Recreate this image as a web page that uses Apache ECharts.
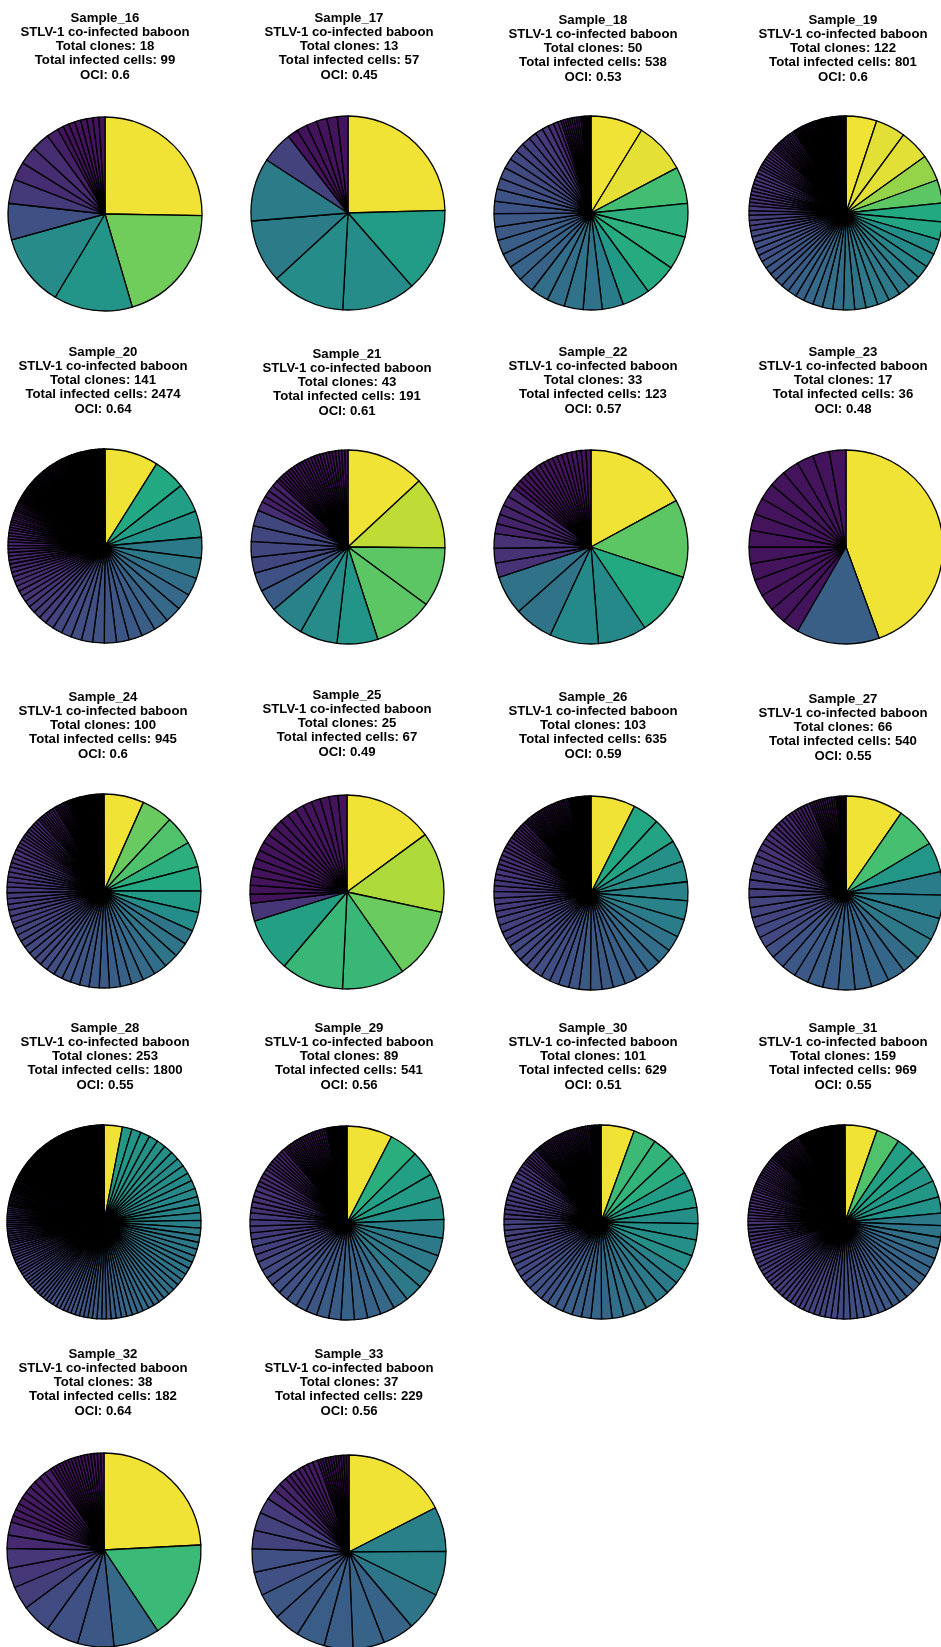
<!DOCTYPE html>
<html>
<head>
<meta charset="utf-8">
<script src="https://cdn.jsdelivr.net/npm/echarts@6/dist/echarts.min.js"></script>
<style>
html,body{margin:0;padding:0;background:#fff;}
#chart{width:941px;height:1647px;}
</style>
</head>
<body>
<div id="chart"></div>
<script>
// ---- DATA ----
const sampleNames = ['Sample_16','Sample_17','Sample_18','Sample_19','Sample_20','Sample_21','Sample_22','Sample_23','Sample_24','Sample_25','Sample_26','Sample_27','Sample_28','Sample_29','Sample_30','Sample_31','Sample_32','Sample_33'];
const hostLabel = 'STLV-1 co-infected baboon';
const totalClones = [18,13,50,122,141,43,33,17,100,25,103,66,253,89,101,159,38,37];
const totalCells = [99,57,538,801,2474,191,123,36,945,67,635,540,1800,541,629,969,182,229];
const ociValues = ['0.6','0.45','0.53','0.6','0.64','0.61','0.57','0.48','0.6','0.49','0.59','0.55','0.55','0.56','0.51','0.55','0.64','0.56'];

// clone size frequency tables: [cells per clone, number of clones], largest first
const clones16 = [[25,1],[20,1],[13,1],[12,1],[6,1],[4,1],[3,3],[2,1],[1,8]];
const clones17 = [[14,1],[8,1],[7,2],[6,2],[3,1],[1,6]];
const clones18 = [[47,1],[46,1],[33,1],[30,2],[29,1],[25,1],[19,1],[17,2],[16,2],[14,2],[13,2],[12,2],[11,2],[10,2],[9,2],[8,2],[7,2],[6,1],[5,1],[4,1],[3,1],[2,9],[1,9]];
const clones19 = [[41,1],[40,2],[35,1],[31,1],[25,1],[24,1],[20,1],[19,1],[18,1],[17,1],[16,4],[15,2],[14,2],[13,2],[12,2],[11,2],[10,3],[9,3],[8,2],[7,3],[6,2],[5,10],[4,8],[3,12],[2,19],[1,35]];
const clones20 = [[221,1],[133,1],[120,1],[109,1],[86,1],[84,1],[74,1],[68,2],[62,1],[58,1],[55,1],[52,1],[50,1],[48,1],[46,1],[44,1],[42,1],[40,1],[36,1],[33,1],[31,1],[29,1],[27,1],[25,1],[24,1],[22,1],[21,1],[20,1],[19,1],[18,1],[17,1],[16,2],[15,2],[14,2],[13,2],[12,2],[11,2],[10,3],[9,3],[8,3],[7,3],[6,42],[5,20],[4,12],[3,6],[2,5]];
const clones21 = [[25,1],[23,1],[19,2],[13,1],[12,1],[11,1],[7,1],[6,1],[5,4],[3,1],[2,4],[1,25]];
const clones22 = [[21,1],[16,1],[13,1],[10,2],[8,2],[3,3],[2,5],[1,18]];
const clones23 = [[16,1],[5,1],[1,15]];
const clones24 = [[63,1],[49,1],[46,1],[40,1],[38,1],[34,1],[30,1],[23,3],[21,1],[20,1],[19,1],[18,1],[17,1],[16,2],[15,2],[14,2],[13,2],[12,3],[11,3],[10,3],[9,4],[8,4],[7,4],[6,3],[5,8],[4,8],[3,7],[2,29],[1,1]];
const clones25 = [[10,1],[9,1],[8,1],[7,2],[6,1],[2,1],[1,18]];
const clones26 = [[47,1],[28,1],[27,1],[23,1],[22,1],[20,2],[19,1],[17,1],[16,1],[15,1],[14,1],[13,2],[12,3],[11,2],[10,3],[9,4],[8,4],[7,4],[6,4],[5,4],[4,4],[3,7],[2,26],[1,24]];
const clones27 = [[52,1],[37,1],[27,1],[21,2],[20,2],[17,1],[16,2],[15,2],[14,2],[13,2],[12,1],[11,1],[10,2],[9,3],[8,3],[7,2],[6,2],[5,3],[4,5],[3,7],[2,12],[1,9]];
const clones28 = [[55,1],[29,1],[28,2],[27,3],[26,3],[25,3],[24,2],[23,2],[22,1],[21,3],[20,4],[19,4],[18,4],[17,3],[16,2],[15,1],[14,4],[13,5],[12,6],[11,6],[10,5],[9,5],[8,6],[7,8],[6,10],[5,10],[4,8],[3,50],[2,80],[1,11]];
const clones29 = [[41,1],[26,1],[23,1],[22,1],[20,1],[17,1],[16,4],[14,1],[13,1],[12,3],[11,2],[10,3],[9,2],[8,3],[7,3],[6,4],[5,5],[4,4],[3,8],[2,21],[1,19]];
const clones30 = [[35,1],[24,1],[23,1],[22,1],[19,2],[17,4],[15,1],[14,2],[13,2],[12,2],[11,2],[10,3],[9,2],[8,4],[7,4],[6,7],[5,10],[4,3],[3,6],[2,31],[1,12]];
const clones31 = [[52,1],[38,1],[29,2],[27,2],[26,1],[20,1],[19,1],[18,1],[17,1],[16,2],[15,2],[14,2],[13,2],[12,3],[11,3],[10,3],[9,4],[8,8],[7,9],[6,8],[5,10],[4,15],[3,18],[2,18],[1,41]];
const clones32 = [[44,1],[30,1],[14,1],[11,1],[10,1],[9,1],[7,1],[6,2],[4,2],[2,10],[1,17]];
const clones33 = [[40,1],[17,2],[15,1],[12,2],[11,2],[10,2],[9,2],[7,2],[6,1],[4,1],[3,2],[2,7],[1,12]];
const cloneTables = [clones16,clones17,clones18,clones19,clones20,clones21,clones22,clones23,clones24,clones25,clones26,clones27,clones28,clones29,clones30,clones31,clones32,clones33];

// ---- LAYOUT (pixels) ----
const pieCenters = [[105,214],[348,213],[591,213],[846,213],
                    [105,546],[348,547],[591,547],[846,547],
                    [104,891],[347,892],[591,893],[846,893],
                    [104,1222],[347,1223],[601,1222],[845,1222],
                    [104,1550],[349,1552]];
const titleCenters = [[105,18],[349,18],[593,20],[843,20],
                      [103,352],[347,354],[593,352],[843,352],
                      [103,697],[347,695],[593,697],[843,699],
                      [105,1028],[349,1028],[593,1028],[843,1028],
                      [103,1354],[349,1354]];
const pieRadius = 97;

const viridisStops = ['#440154','#482475','#414487','#355f8d','#2a788e','#21918c','#22a884','#44bf70','#7ad151','#bddf26','#fde725'];
function hex2rgb(h){return [parseInt(h.slice(1,3),16),parseInt(h.slice(3,5),16),parseInt(h.slice(5,7),16)];}
function viridis(t){
  t = Math.max(0, Math.min(1, t));
  const x = t * (viridisStops.length - 1);
  const i = Math.min(Math.floor(x), viridisStops.length - 2);
  const f = x - i;
  const a = hex2rgb(viridisStops[i]), b = hex2rgb(viridisStops[i+1]);
  const c = a.map((v,k)=>v + (b[k]-v)*f);
  // slightly muted rendering, as in the reference image
  const r = Math.round(0.94*c[0] + 3), g = Math.round(0.9*c[1] + 18), bl = Math.round(0.8*c[2] + 24);
  return 'rgb(' + r + ',' + g + ',' + bl + ')';
}

function expand(table){
  const out = [];
  table.forEach(([size, n]) => { for (let k = 0; k < n; k++) out.push(size); });
  return out;
}

const chart = echarts.init(document.getElementById('chart'), null, {renderer:'canvas', width:941, height:1647});

const titles = [];
const series = [];
sampleNames.forEach((name, idx) => {
  const values = expand(cloneTables[idx]);
  const mx = Math.max(...values), mn = Math.min(...values);
  titles.push({
    text: [name, hostLabel, 'Total clones: ' + totalClones[idx], 'Total infected cells: ' + totalCells[idx], 'OCI: ' + ociValues[idx]].join('\n'),
    left: titleCenters[idx][0],
    top: titleCenters[idx][1] - 7,
    textAlign: 'center',
    padding: 0,
    textStyle: {fontFamily: '"Liberation Sans", Arial, Helvetica, sans-serif', fontSize: 13.2, fontWeight: 'bold', color: '#000', lineHeight: 14.2}
  });
  series.push({
    type: 'pie',
    name: name,
    center: pieCenters[idx],
    radius: pieRadius,
    startAngle: 90,
    clockwise: true,
    minAngle: 0,
    avoidLabelOverlap: false,
    silent: true,
    animation: false,
    label: {show: false},
    labelLine: {show: false},
    emphasis: {disabled: true},
    itemStyle: {borderColor: '#000', borderWidth: 1.3},
    data: values.map(v => ({value: v, itemStyle: {color: viridis(mx === mn ? 1 : (v - mn) / (mx - mn))}}))
  });
});

chart.setOption({
  animation: false,
  backgroundColor: '#fff',
  title: titles,
  series: series
});
</script>
</body>
</html>
